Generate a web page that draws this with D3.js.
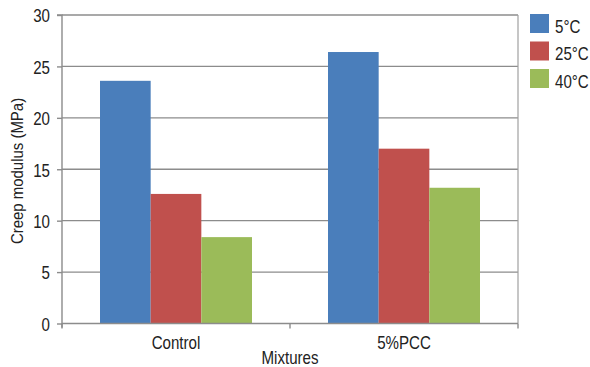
<!DOCTYPE html>
<html><head><meta charset="utf-8">
<script src="https://cdn.jsdelivr.net/npm/d3@7"></script>
<style>
body{margin:0;background:#fff}svg{display:block}
text{font-family:"Liberation Sans",Arial,sans-serif;fill:#222}
text.n{transform-box:fill-box;transform:scaleX(0.84)}
text.n.end{transform-origin:100% 50%}
text.n.mid{transform-origin:50% 50%}
text.n.start{transform-origin:0% 50%}
</style>
</head><body><svg id="c" width="590" height="367"></svg>
<script>
const categories = ["Control", "5%PCC"];
const series = ["5°C", "25°C", "40°C"];
const v5 = [23.6, 26.4];
const v25 = [12.6, 17.0];
const v40 = [8.4, 13.2];
const yTicks = [0, 5, 10, 15, 20, 25, 30];
const colors = ["#4a7ebb", "#c0504d", "#9bbb59"];
const values = [v5, v25, v40];

const svg = d3.select("#c");
const L = 62, R = 518, T = 15, B = 323.5;
const x = d3.scaleBand().domain(categories).range([L, R]).paddingInner(0).paddingOuter(0);
const xs = d3.scaleBand().domain(series).range([0, x.bandwidth()]).paddingInner(0).paddingOuter(0.75);
const y = d3.scaleLinear().domain([0, 30]).range([B, T]);

// gridlines
svg.append("g").selectAll("line").data(yTicks.filter(d => d > 0)).join("line")
  .attr("x1", L).attr("x2", R).attr("y1", d => y(d)).attr("y2", d => y(d))
  .attr("stroke", "#8c8c8c").attr("stroke-width", 1.4);
// right border
svg.append("line").attr("x1", R).attr("x2", R).attr("y1", T).attr("y2", B).attr("stroke", "#a0a0a0").attr("stroke-width", 1.2);

// bars
categories.forEach((c, i) => {
  series.forEach((s, j) => {
    svg.append("rect")
      .attr("x", x(c) + xs(s)).attr("width", xs.bandwidth())
      .attr("y", y(values[j][i])).attr("height", B - y(values[j][i]))
      .attr("fill", colors[j]);
  });
});

// y axis
const ya = d3.axisLeft(y).tickValues(yTicks).tickSize(5).tickPadding(7);
const gy = svg.append("g").attr("transform", `translate(${L},0)`).call(ya);
gy.attr("font-family", null).attr("font-size", null);
gy.select(".domain").attr("stroke", "#8c8c8c").attr("stroke-width", 1.4).attr("d", `M-5,${T}H0V${B+4}`);
gy.selectAll(".tick line").attr("stroke", "#8c8c8c").attr("stroke-width", 1.4);
gy.selectAll("text").attr("font-size", 18).attr("fill", null).attr("dy", "0.38em").attr("class", "n end");

// x axis
const xa = d3.axisBottom(x).tickSize(0).tickPadding(12.5);
const gx = svg.append("g").attr("transform", `translate(0,${B})`).call(xa);
gx.attr("font-family", null).attr("font-size", null);
gx.select(".domain").attr("stroke", "#8c8c8c").attr("stroke-width", 1.4).attr("d", `M${L},0H${R}`);
gx.selectAll("text").attr("font-size", 18).attr("fill", null).attr("class", "n mid");
svg.append("g").selectAll("line").data([L, (L + R) / 2, R]).join("line")
  .attr("x1", d => d).attr("x2", d => d).attr("y1", B).attr("y2", B + 5)
  .attr("stroke", "#8c8c8c").attr("stroke-width", 1.4);

// axis titles
svg.append("text").attr("class", "n mid").attr("x", (L + R) / 2).attr("y", 364).attr("text-anchor", "middle")
  .attr("font-size", 18).text("Mixtures");
svg.append("g").attr("transform", `translate(23,171) rotate(-90)`)
  .append("text").attr("text-anchor", "middle").attr("font-size", 17)
  .attr("style", "transform-box:fill-box;transform-origin:50% 50%;transform:scaleX(0.88)")
  .text("Creep modulus (MPa)");

// legend
const lg = svg.append("g").attr("transform", "translate(530,14)");
series.forEach((s, j) => {
  const g = lg.append("g").attr("transform", `translate(0,${j * 27.5})`);
  g.append("rect").attr("width", 19).attr("height", 19).attr("fill", colors[j]);
  g.append("text").attr("class", "n start").attr("x", 25).attr("y", 19).attr("font-size", 18).text(s);
});
</script></body></html>
